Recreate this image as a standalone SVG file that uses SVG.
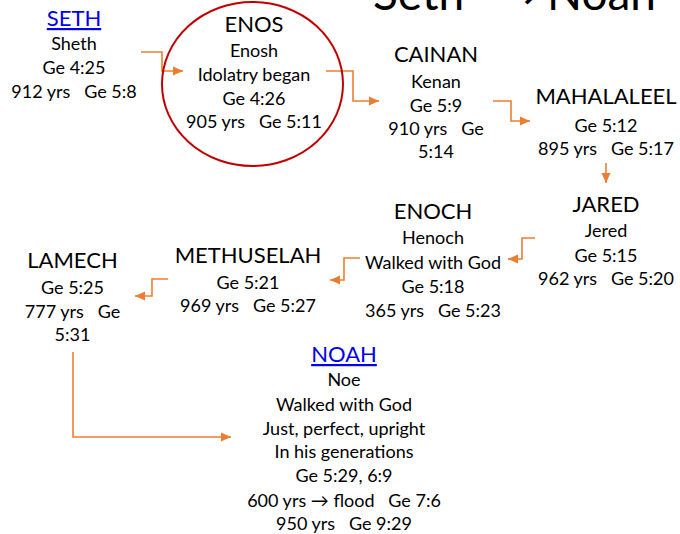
<svg xmlns="http://www.w3.org/2000/svg" width="680" height="534" viewBox="0 0 680 534">
<style>
text{font-family:Lato,"Open Sans","Liberation Sans",sans-serif;fill:#000;text-anchor:middle;white-space:pre}
.n{font-size:22px}
.d{font-size:18px}
.link{fill:#0000EE;text-decoration:underline}
.title{font-size:46px;text-anchor:start}
.arr{font-family:"DejaVu Sans",sans-serif}
.c{fill:none;stroke:#ED7D31;stroke-width:1.6;marker-end:url(#ah)}
</style>
<defs>
<marker id="ah" markerUnits="userSpaceOnUse" markerWidth="11" markerHeight="10" refX="10" refY="5" orient="auto">
<path d="M0,0.5 L10,5 L0,9.5 z" fill="#ED7D31"/>
</marker>
</defs>
<g id="title"><text class="title" x="373" y="10">Seth</text><text class="title arr" x="501" y="9" style="font-size:44px">→</text><text class="title" x="547" y="10">Noah</text></g>
<g id="connectors">
<path class="c" d="M141,52 H162 V71 H183"/>
<path class="c" d="M326,71 H353 V101 H379"/>
<path class="c" d="M493,101 H511 V121 H530"/>
<path class="c" d="M606,163 V183"/>
<path class="c" d="M535,238 H522 V259 H508"/>
<path class="c" d="M360,258 H344 V280 H330"/>
<path class="c" d="M168,279 H152 V296 H135"/>
<path class="c" d="M73,352 V437 H231"/>
</g>
<g id="seth">
<text class="n link" x="74" y="26">SETH</text>
<text class="d" x="74" y="50">Sheth</text>
<text class="d" x="74" y="74">Ge 4:25</text>
<text class="d" x="74" y="98">912 yrs   Ge 5:8</text>
</g>
<g id="enos">
<ellipse cx="252.5" cy="84" rx="90.5" ry="82" fill="none" stroke="#C00000" stroke-width="2"/>
<text class="n" x="254" y="32">ENOS</text>
<text class="d" x="254" y="57">Enosh</text>
<text class="d" x="254" y="81">Idolatry began</text>
<text class="d" x="254" y="105">Ge 4:26</text>
<text class="d" x="254" y="128">905 yrs   Ge 5:11</text>
</g>
<g id="cainan">
<text class="n" x="436" y="62">CAINAN</text>
<text class="d" x="436" y="88">Kenan</text>
<text class="d" x="436" y="112">Ge 5:9</text>
<text class="d" x="436" y="135">910 yrs   Ge</text>
<text class="d" x="436" y="158">5:14</text>
</g>
<g id="mahalaleel">
<text class="n" x="606" y="104">MAHALALEEL</text>
<text class="d" x="606" y="132">Ge 5:12</text>
<text class="d" x="606" y="155">895 yrs   Ge 5:17</text>
</g>
<g id="jared">
<text class="n" x="606" y="212">JARED</text>
<text class="d" x="606" y="237">Jered</text>
<text class="d" x="606" y="262">Ge 5:15</text>
<text class="d" x="606" y="285">962 yrs   Ge 5:20</text>
</g>
<g id="enoch">
<text class="n" x="433" y="219">ENOCH</text>
<text class="d" x="433" y="244">Henoch</text>
<text class="d" x="433" y="269">Walked with God</text>
<text class="d" x="433" y="293">Ge 5:18</text>
<text class="d" x="433" y="317">365 yrs   Ge 5:23</text>
</g>
<g id="methuselah">
<text class="n" x="248" y="263">METHUSELAH</text>
<text class="d" x="248" y="289">Ge 5:21</text>
<text class="d" x="248" y="312">969 yrs   Ge 5:27</text>
</g>
<g id="lamech">
<text class="n" x="72.5" y="268">LAMECH</text>
<text class="d" x="72.5" y="294">Ge 5:25</text>
<text class="d" x="72.5" y="318">777 yrs   Ge</text>
<text class="d" x="72.5" y="341">5:31</text>
</g>
<g id="noah">
<text class="n link" x="344" y="362">NOAH</text>
<text class="d" x="344" y="386">Noe</text>
<text class="d" x="344" y="411">Walked with God</text>
<text class="d" x="344" y="435">Just, perfect, upright</text>
<text class="d" x="344" y="458">In his generations</text>
<text class="d" x="344" y="482">Ge 5:29, 6:9</text>
<text class="d" x="344" y="507">600 yrs → flood   Ge 7:6</text>
<text class="d" x="344" y="530">950 yrs   Ge 9:29</text>
</g>
</svg>
